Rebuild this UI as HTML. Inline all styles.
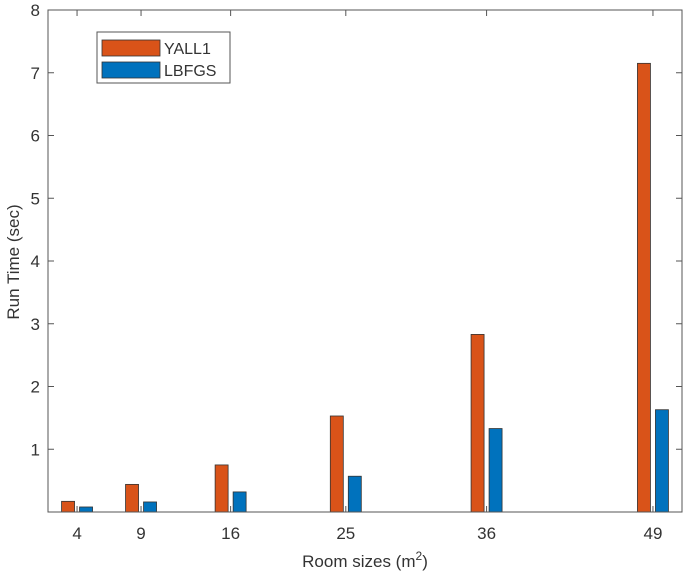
<!DOCTYPE html>
<html><head><meta charset="utf-8"><style>
body{margin:0;background:#fff;}
svg text{font-family:"Liberation Sans",Arial,sans-serif;fill:#333;}
</style></head><body>
<svg id="chart" width="685" height="580" xmlns="http://www.w3.org/2000/svg">
<g id="plot"></g>
</svg>
<script>
const categories=[4,9,16,25,36,49];
const yall1=[0.17,0.44,0.75,1.53,2.83,7.15];
const lbfgs=[0.08,0.16,0.32,0.57,1.33,1.63];
const yTicks=[1,2,3,4,5,6,7,8];
const seriesNames=['YALL1','LBFGS'];

const NS='http://www.w3.org/2000/svg';
const L=48,R=682,T=10,B=512;
const xMin=1.73,xMax=51.27,yMax=8;
const sx=v=>L+(v-xMin)/(xMax-xMin)*(R-L);
const sy=v=>B-v/yMax*(B-T);
const g=document.getElementById('plot');
function el(tag,attrs,text){const e=document.createElementNS(NS,tag);for(const k in attrs)e.setAttribute(k,attrs[k]);if(text!==undefined)e.textContent=text;g.appendChild(e);return e;}

// bars
const bw=13,off=9;
categories.forEach((c,i)=>{
  const x=sx(c);
  let b=el('rect',{x:x-off-bw/2,y:sy(yall1[i]),width:bw,height:B-sy(yall1[i]),fill:'#D95319',stroke:'#333','stroke-width':0.8});
  
  
  let b2=el('rect',{x:x+off-bw/2,y:sy(lbfgs[i]),width:bw,height:B-sy(lbfgs[i]),fill:'#0072BD',stroke:'#333','stroke-width':0.8});
  
  
});
// axes box
const box=el('rect',{x:L,y:T,width:R-L,height:B-T,fill:'none',stroke:'#555','stroke-width':1});


// x ticks
categories.forEach(c=>{
  const x=sx(c);
  el('line',{x1:x,x2:x,y1:B,y2:B-6,stroke:'#555'});
  el('line',{x1:x,x2:x,y1:T,y2:T+6,stroke:'#555'});
  const t=el('text',{x:x,y:B+27,'text-anchor':'middle','font-size':17},String(c));
  
  
});
// y ticks
yTicks.concat([0]).forEach(v=>{
  const y=sy(v);
  el('line',{x1:L,x2:L+6,y1:y,y2:y,stroke:'#555'});
  el('line',{x1:R,x2:R-6,y1:y,y2:y,stroke:'#555'});
});
yTicks.forEach(v=>{
  const t=el('text',{x:40,y:sy(v)+6,'text-anchor':'end','font-size':17},String(v));
  
  
});
// axis titles
const xt=el('text',{x:365,y:567,'text-anchor':'middle','font-size':17});
xt.innerHTML='Room sizes (m<tspan dy="-7" font-size="12">2</tspan><tspan dy="7">)</tspan>';


const yt=el('text',{x:0,y:0,'text-anchor':'middle','font-size':17,transform:'translate(19,262) rotate(-90)'},'Run Time (sec)');


// legend
const lg=el('rect',{x:97,y:32,width:133,height:51,fill:'#fff',stroke:'#555'});


const cols=['#D95319','#0072BD'];
seriesNames.forEach((n,i)=>{
  const sw=el('rect',{x:102,y:40+i*22,width:58,height:16,fill:cols[i],stroke:'#333','stroke-width':0.8});
  
  
  const t=el('text',{x:164,y:54+i*22,'font-size':16},n);
  
  
});
</script>
</body></html>
